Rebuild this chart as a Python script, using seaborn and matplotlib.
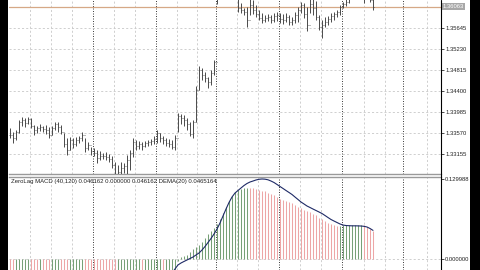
import numpy as np
import pandas as pd
import matplotlib
matplotlib.use("Agg")
import matplotlib.pyplot as plt
import seaborn as sns
from matplotlib.patches import Rectangle
from matplotlib.lines import Line2D

# ---------------- data ----------------
highs = [1.33669, 1.33590, 1.33629, 1.33827, 1.33887, 1.33867, 1.33887, 1.33867, 1.33728, 1.33708,
         1.33748, 1.33708, 1.33728, 1.33689, 1.33708, 1.33788, 1.33788, 1.33728, 1.33570, 1.33471,
         1.33491, 1.33471, 1.33491, 1.33511, 1.33590, 1.33471, 1.33392, 1.33294, 1.33274, 1.33234,
         1.33214, 1.33175, 1.33195, 1.33155, 1.33116, 1.32997, 1.32938, 1.32997, 1.32977, 1.33135,
         1.33234, 1.33471, 1.33432, 1.33412, 1.33392, 1.33412, 1.33432, 1.33452, 1.33511, 1.33629,
         1.33570, 1.33511, 1.33471, 1.33452, 1.33432, 1.33531, 1.33966, 1.33946, 1.33926, 1.33867,
         1.33788, 1.33827, 1.34501, 1.34897, 1.34857, 1.34778, 1.34679, 1.34818, 1.35016, 1.36438,
         1.36695, 1.36893, 1.36992, 1.36834, 1.36755, 1.36636, 1.36260, 1.36142, 1.36043, 1.36063,
         1.36241, 1.36201, 1.36102, 1.36004, 1.35944, 1.35905, 1.35925, 1.35905, 1.35944, 1.35964,
         1.35944, 1.35925, 1.35944, 1.35905, 1.35865, 1.35964, 1.36063, 1.36162, 1.36142, 1.36063,
         1.36260, 1.36241, 1.36181, 1.35905, 1.35806, 1.35865, 1.35885, 1.35944, 1.35964, 1.36004,
         1.36102, 1.36162, 1.36280, 1.36300, 1.36498, 1.36597, 1.36557, 1.36498, 1.36438, 1.36399,
         1.36320, 1.36241]
lows = [1.33471, 1.33372, 1.33432, 1.33570, 1.33708, 1.33689, 1.33748, 1.33669, 1.33531, 1.33570,
        1.33610, 1.33590, 1.33550, 1.33471, 1.33531, 1.33629, 1.33590, 1.33550, 1.33294, 1.33135,
        1.33234, 1.33274, 1.33313, 1.33372, 1.33412, 1.33195, 1.33234, 1.33135, 1.33116, 1.32977,
        1.33037, 1.33056, 1.33037, 1.32997, 1.32879, 1.32641, 1.32641, 1.32740, 1.32780, 1.32740,
        1.32839, 1.33096, 1.33234, 1.33254, 1.33234, 1.33294, 1.33313, 1.33333, 1.33353, 1.33372,
        1.33392, 1.33353, 1.33313, 1.33294, 1.33254, 1.33234, 1.33590, 1.33748, 1.33708, 1.33629,
        1.33511, 1.33471, 1.33788, 1.34422, 1.34620, 1.34580, 1.34462, 1.34521, 1.34719, 1.36122,
        1.36300, 1.36498, 1.36597, 1.36438, 1.36359, 1.36260, 1.35964, 1.35944, 1.35905, 1.35668,
        1.35905, 1.35925, 1.35865, 1.35806, 1.35747, 1.35766, 1.35786, 1.35747, 1.35766, 1.35786,
        1.35747, 1.35727, 1.35766, 1.35707, 1.35707, 1.35747, 1.35766, 1.35944, 1.35846, 1.35589,
        1.35944, 1.35905, 1.35806, 1.35608, 1.35450, 1.35668, 1.35707, 1.35766, 1.35806, 1.35865,
        1.35905, 1.36043, 1.36083, 1.36142, 1.36241, 1.36300, 1.36280, 1.36260, 1.36142, 1.36221,
        1.36162, 1.36004]
closes = [1.33531, 1.33471, 1.33590, 1.33788, 1.33827, 1.33768, 1.33847, 1.33708, 1.33629, 1.33669,
          1.33689, 1.33649, 1.33629, 1.33531, 1.33669, 1.33748, 1.33689, 1.33590, 1.33353, 1.33234,
          1.33432, 1.33353, 1.33432, 1.33471, 1.33531, 1.33274, 1.33333, 1.33214, 1.33175, 1.33076,
          1.33116, 1.33116, 1.33096, 1.33056, 1.32938, 1.32720, 1.32800, 1.32879, 1.32918, 1.33037,
          1.33175, 1.33392, 1.33313, 1.33353, 1.33313, 1.33372, 1.33392, 1.33412, 1.33452, 1.33570,
          1.33471, 1.33432, 1.33372, 1.33353, 1.33294, 1.33471, 1.33906, 1.33867, 1.33827, 1.33748,
          1.33550, 1.33788, 1.34422, 1.34818, 1.34719, 1.34660, 1.34580, 1.34758, 1.34976, 1.36359,
          1.36597, 1.36755, 1.36695, 1.36557, 1.36478, 1.36320, 1.36043, 1.36004, 1.35964, 1.35806,
          1.36102, 1.36004, 1.35925, 1.35846, 1.35806, 1.35846, 1.35865, 1.35806, 1.35885, 1.35905,
          1.35826, 1.35806, 1.35865, 1.35766, 1.35806, 1.35905, 1.36004, 1.36102, 1.35925, 1.35707,
          1.36122, 1.36043, 1.35865, 1.35668, 1.35707, 1.35766, 1.35826, 1.35885, 1.35925, 1.35964,
          1.36063, 1.36122, 1.36162, 1.36241, 1.36399, 1.36438, 1.36359, 1.36320, 1.36300, 1.36280,
          1.36201, 1.36063]
macd = [-0.0400, -0.0410, -0.0402, -0.0380, -0.0360, -0.0350, -0.0340, -0.0350, -0.0360, -0.0370,
        -0.0368, -0.0372, -0.0376, -0.0380, -0.0375, -0.0368, -0.0365, -0.0370, -0.0390, -0.0410,
        -0.0405, -0.0402, -0.0398, -0.0395, -0.0390, -0.0398, -0.0405, -0.0412, -0.0420, -0.0430,
        -0.0435, -0.0440, -0.0445, -0.0450, -0.0460, -0.0475, -0.0472, -0.0468, -0.0465, -0.0460,
        -0.0450, -0.0430, -0.0425, -0.0422, -0.0423, -0.0420, -0.0415, -0.0410, -0.0400, -0.0380,
        -0.0340, -0.0345, -0.0330, -0.0300, -0.0260, -0.0200, -0.0040, 0.0030, 0.0050, 0.0065,
        0.0110, 0.0160, 0.0195, 0.0230, 0.0280, 0.0340, 0.0410, 0.0455, 0.0500, 0.0570,
        0.0650, 0.0750, 0.0845, 0.0940, 0.1020, 0.1090, 0.1120, 0.1135, 0.1150, 0.1160,
        0.1153, 0.1149, 0.1142, 0.1129, 0.1113, 0.1097, 0.1072, 0.1056, 0.1032, 0.1007,
        0.0983, 0.0959, 0.0942, 0.0926, 0.0902, 0.0877, 0.0853, 0.0829, 0.0804, 0.0780,
        0.0756, 0.0731, 0.0707, 0.0674, 0.0642, 0.0617, 0.0593, 0.0570, 0.0553, 0.0540,
        0.0542, 0.0545, 0.0547, 0.0549, 0.0551, 0.0553, 0.0554, 0.0555, 0.0550, 0.0520,
        0.0490, 0.046162]
dema = [-0.0390, -0.0393, -0.0395, -0.0394, -0.0390, -0.0385, -0.0379, -0.0375, -0.0373, -0.0373,
        -0.0372, -0.0372, -0.0373, -0.0375, -0.0375, -0.0373, -0.0371, -0.0371, -0.0375, -0.0382,
        -0.0387, -0.0390, -0.0391, -0.0391, -0.0390, -0.0392, -0.0395, -0.0399, -0.0404, -0.0410,
        -0.0416, -0.0422, -0.0428, -0.0434, -0.0441, -0.0450, -0.0456, -0.0460, -0.0462, -0.0462,
        -0.0459, -0.0452, -0.0446, -0.0440, -0.0436, -0.0432, -0.0428, -0.0423, -0.0418, -0.0410,
        -0.0380, -0.0360, -0.0330, -0.0290, -0.0230, -0.0162, -0.0097, -0.0065, -0.0040, -0.0016,
        0.0008, 0.0032, 0.0065, 0.0097, 0.0146, 0.0203, 0.0268, 0.0333, 0.0406, 0.0487,
        0.0585, 0.0699, 0.0812, 0.0918, 0.1007, 0.1072, 0.1113, 0.1154, 0.1194, 0.1227,
        0.1251, 0.1267, 0.1284, 0.1295, 0.129988, 0.1297, 0.1287, 0.1267, 0.1243, 0.1211,
        0.1178, 0.1146, 0.1113, 0.1081, 0.1048, 0.1007, 0.0967, 0.0926, 0.0894, 0.0861,
        0.0837, 0.0812, 0.0788, 0.0764, 0.0739, 0.0707, 0.0674, 0.0642, 0.0617, 0.0593,
        0.0569, 0.0552, 0.0544, 0.0541, 0.0539, 0.0539, 0.0538, 0.0536, 0.0531, 0.0520,
        0.0496, 0.0465164]

price_ticks = [1.35645, 1.35230, 1.34815, 1.34400, 1.33985, 1.33570, 1.33155]
price_tick_labels = ["1.35645", "1.35230", "1.34815", "1.34400", "1.33985", "1.33570", "1.33155"]
last_price = 1.36063
last_price_label = "1.36063"
macd_ticks = [0.129988, 0.0]
macd_tick_labels = ["0.129988", "0.000000"]
caption = "ZeroLag MACD (40,120) 0.046162 0.000000 0.046162 DEMA(20) 0.0465164"

# ---------------- style ----------------
sns.set_style("white")
plt.rcParams['font.family'] = ['Liberation Sans', 'DejaVu Sans']

W, H = 480, 270
def fx(px): return px / W
def fy(py): return 1 - py / H

fig = plt.figure(figsize=(4.8, 2.7), dpi=100, facecolor='black')
bg = fig.add_axes([fx(8), 0, fx(470) - fx(8), 1], zorder=-5)
bg.set_facecolor('white')
bg.set_axis_off()
bg.add_patch(Rectangle((0, 0), 1, 1, transform=bg.transAxes, facecolor='white', edgecolor='none'))

ax1 = fig.add_axes([fx(9), fy(174), fx(441) - fx(9), 174 / H], zorder=1)
ax2 = fig.add_axes([fx(9), 0, fx(441) - fx(9), 93 / H], zorder=1)

n = len(closes)
idx = np.arange(n)
df = pd.DataFrame({"bar": idx, "high": highs, "low": lows, "close": closes,
                   "macd": macd, "dema": dema})
opens = df["close"].shift(1).fillna(df["close"].iloc[0])

# x range: pixel 9 -> -1/3, pixel 441 -> 143.67 (3 px per bar)
xl = (-1 / 3, 432 / 3 - 1 / 3)
for ax in (ax1, ax2):
    ax.set_xlim(*xl)
    ax.patch.set_alpha(0)

ax1.set_ylim(1.327598, 1.361983)
ax2.set_ylim(-0.017874, 0.129988 + 2 * 0.0016249)

# grid
gray_grid = [6.67, 13.67, 20.67, 34.67, 41.67, 55.67, 62.33, 75.67, 82.67, 96.67, 103.67, 118.0, 125.0, 139.0]
sep_grid = [27.67, 48.67, 68.67, 89.67, 110.67, 131.0]
for ax in (ax1, ax2):
    for g in gray_grid:
        ax.axvline(g, color='#c8c8c8', lw=0.6, ls=(0, (2.5, 2.5)), zorder=1)
    for g in sep_grid:
        ax.axvline(g, color='#202020', lw=0.6, ls=(0, (1.2, 1.8)), zorder=1)
for p in price_ticks:
    ax1.axhline(p, color='#c8c8c8', lw=0.6, ls=(0, (2.5, 2.5)), zorder=1)
ax2.axhline(0, color='#c8c8c8', lw=0.6, ls=(0, (2.5, 2.5)), zorder=1)

# price line
ax1.axhline(last_price, color='#d6a886', lw=0.9, zorder=2)

# OHLC bars
bar_col = '#4a4a4a'
ax1.vlines(df["bar"], df["low"], df["high"], color=bar_col, lw=0.7, zorder=3)
ax1.hlines(opens, df["bar"] - 0.45, df["bar"], color=bar_col, lw=0.55, zorder=3)
ax1.hlines(df["close"], df["bar"], df["bar"] + 0.45, color=bar_col, lw=0.55, zorder=3)

# MACD histogram
diff = df["macd"].diff().fillna(-1)
cols = np.where(diff >= 0, '#76a076', '#eda6a6')
ax2.vlines(df["bar"], 0, df["macd"], colors=cols, lw=0.75, zorder=3)

# signal line
sns.lineplot(data=df, x="bar", y="dema", ax=ax2, color='#1e2a66', lw=0.8, zorder=4)
ax2.set_xlabel("")
ax2.set_ylabel("")

# axes / ticks
for ax, ticks, labels in ((ax1, price_ticks, price_tick_labels), (ax2, macd_ticks, macd_tick_labels)):
    ax.yaxis.tick_right()
    ax.set_yticks(ticks)
    ax.set_yticklabels(labels)
    ax.tick_params(axis='y', labelsize=4.2, length=2, width=0.5, pad=1, colors='black',
                   labelcolor='#222222')
    ax.set_xticks([])
    for s in ('left', 'top', 'bottom', 'right'):
        ax.spines[s].set_visible(False)

ax1.spines['bottom'].set_visible(True)
ax1.spines['bottom'].set_color('#9a9a9a')
ax1.spines['bottom'].set_linewidth(1.0)
ax2.spines['top'].set_visible(True)
ax2.spines['top'].set_color('#9a9a9a')
ax2.spines['top'].set_linewidth(1.0)

# right axis line spanning full height
fig.add_artist(Line2D([fx(441), fx(441)], [0, 1], color='black', lw=0.8, transform=fig.transFigure))

# last price label box
ax1.text(1.003, last_price, last_price_label, transform=ax1.get_yaxis_transform(),
         ha='left', va='center', fontsize=4.2, color='white',
         bbox=dict(facecolor='#a8a8a8', edgecolor='none', pad=0.8), zorder=6)

# indicator caption
ax2.text(2 / 432, (270 - 182) / 93, caption, transform=ax2.transAxes, ha='left', va='center',
         fontsize=4.3, color='#222222')

fig.savefig("out.png", dpi=100, facecolor='black')
